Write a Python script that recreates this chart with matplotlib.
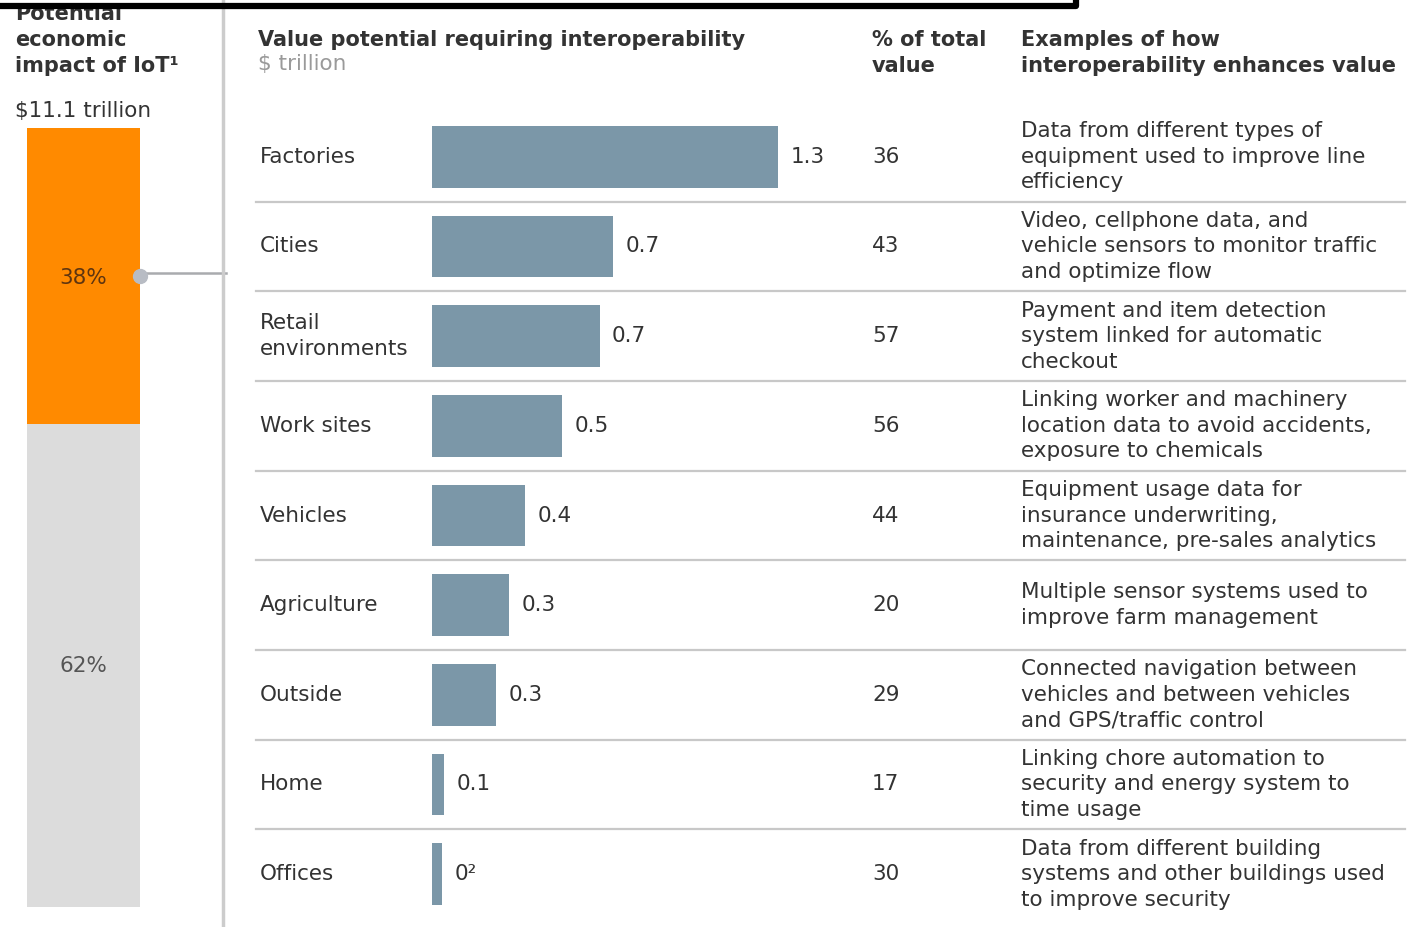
import matplotlib.pyplot as plt
from matplotlib.transforms import blended_transform_factory

# data
sectors = ["Factories", "Cities", "Retail\nenvironments", "Work sites", "Vehicles",
           "Agriculture", "Outside", "Home", "Offices"]
value_potential = [1.30, 0.68, 0.63, 0.49, 0.35, 0.29, 0.24, 0.045, 0.038]
value_labels = ["1.3", "0.7", "0.7", "0.5", "0.4", "0.3", "0.3", "0.1", "0²"]
pct_of_total = [36, 43, 57, 56, 44, 20, 29, 17, 30]
examples = [
    "Data from different types of\nequipment used to improve line\nefficiency",
    "Video, cellphone data, and\nvehicle sensors to monitor traffic\nand optimize flow",
    "Payment and item detection\nsystem linked for automatic\ncheckout",
    "Linking worker and machinery\nlocation data to avoid accidents,\nexposure to chemicals",
    "Equipment usage data for\ninsurance underwriting,\nmaintenance, pre-sales analytics",
    "Multiple sensor systems used to\nimprove farm management",
    "Connected navigation between\nvehicles and between vehicles\nand GPS/traffic control",
    "Linking chore automation to\nsecurity and energy system to\ntime usage",
    "Data from different building\nsystems and other buildings used\nto improve security",
]
iot_share_labels = ["38%", "62%"]
iot_share = [38, 62]

W, H = 1407, 927
BAR = "#7b97a8"
ORANGE = "#ff8a00"
LIGHT = "#dcdcdc"
TXT = "#333333"
SEP = "#c8c8c8"
BODY = "DejaVu Sans"
HEAD = "DejaVu Sans"
FS = 15.5

fig = plt.figure(figsize=(W / 100, H / 100), dpi=100)

# overlay axes in pixel coordinates for text and rules
ov = fig.add_axes([0, 0, 1, 1])
ov.set_xlim(0, W)
ov.set_ylim(H, 0)
ov.axis("off")

# left stacked column
ax_l = fig.add_axes([27 / W, 1 - 907 / H, 113 / W, 779 / H])
ax_l.bar([0], [iot_share[1]], width=1, color=LIGHT)
ax_l.bar([0], [iot_share[0]], bottom=[iot_share[1]], width=1, color=ORANGE)
ax_l.set_xlim(-0.5, 0.5)
ax_l.set_ylim(0, 100)
ax_l.axis("off")
ax_l.text(0, iot_share[1] + iot_share[0] / 2 - 0.3, iot_share_labels[0], ha="center",
          va="center", fontsize=FS, family=BODY, color="#5e3510")
ax_l.text(0, iot_share[1] / 2, iot_share_labels[1], ha="center", va="center",
          fontsize=FS, family=BODY, color="#555555")
ax_l.plot([0.5], [iot_share[1] + iot_share[0] / 2], "o", ms=10, color="#b8bcc4",
          clip_on=False, zorder=5)

# connector and divider
ov.plot([140, 226], [273, 273], color="#a9abae", lw=1.8)
ov.plot([223, 223], [0, H], color="#cccccc", lw=2.5)

# bar axes
n = len(sectors)
ax = fig.add_axes([432 / W, 1 - 919 / H, 399 / W, 807 / H])
ax.barh(range(n), value_potential, height=0.69, color=BAR)
ax.set_xlim(0, 1.5)
ax.set_ylim(n - 0.5, -0.5)
ax.axis("off")
for i, (v, lab) in enumerate(zip(value_potential, value_labels)):
    ax.annotate(lab, (v, i), xytext=(9, 0), textcoords="offset points",
                ha="left", va="center", fontsize=FS, family=BODY, color=TXT,
                annotation_clip=False)

tr = blended_transform_factory(ov.transData, ax.transData)
for i in range(n):
    ov.text(260, i, sectors[i], transform=tr, ha="left", va="center",
            fontsize=FS, family=BODY, color=TXT, linespacing=1.35)
    ov.text(872, i, str(pct_of_total[i]), transform=tr, ha="left", va="center",
            fontsize=FS, family=BODY, color=TXT)
    ov.text(1021, i, examples[i], transform=tr, ha="left", va="center",
            fontsize=FS, family=BODY, color=TXT, linespacing=1.35)
    if i < n - 1:
        ov.plot([256, 1405], [i + 0.5, i + 0.5], transform=tr, color=SEP, lw=1.6)

# headers
ov.text(15, 72, "Potential\neconomic\nimpact of IoT¹", ha="left", va="baseline",
        fontsize=15, family=HEAD, fontweight="bold", color=TXT, linespacing=1.38)
ov.text(15, 117, "$11.1 trillion", ha="left", va="baseline", fontsize=FS,
        family=BODY, color=TXT)
ov.text(258, 46, "Value potential requiring interoperability", ha="left",
        va="baseline", fontsize=15, family=HEAD, fontweight="bold", color=TXT)
ov.text(258, 70, "$ trillion", ha="left", va="baseline", fontsize=FS,
        family=BODY, color="#9a9a9a")
ov.text(872, 72, "% of total\nvalue", ha="left", va="baseline", fontsize=15,
        family=HEAD, fontweight="bold", color=TXT, linespacing=1.38)
ov.text(1021, 72, "Examples of how\ninteroperability enhances value", ha="left",
        va="baseline", fontsize=15, family=HEAD, fontweight="bold", color=TXT,
        linespacing=1.38)

# black frame edge at the top of the screenshot
ov.plot([0, 1076, 1076], [6, 6, 0], color="black", lw=4.5, zorder=10,
        solid_joinstyle="round")

fig.savefig("out.png", dpi=100)
